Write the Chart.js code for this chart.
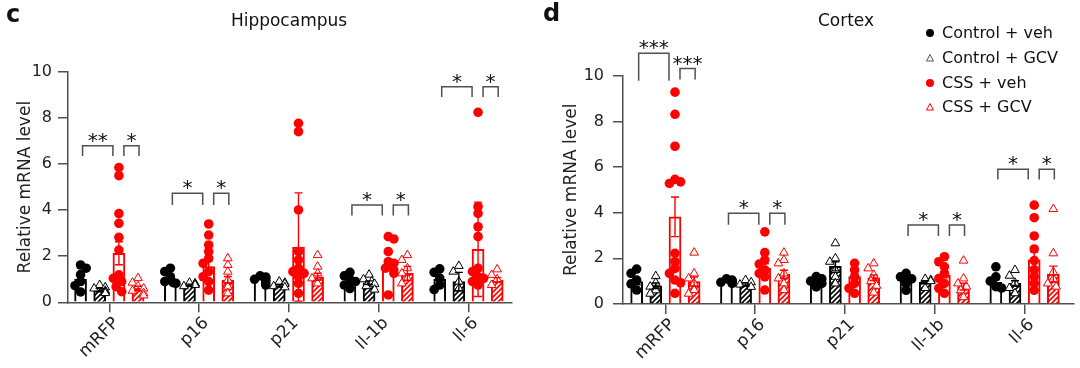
<!DOCTYPE html>
<html>
<head>
<meta charset="utf-8">
<script src="https://cdn.jsdelivr.net/npm/chart.js@4.4.0/dist/chart.umd.min.js"></script>
<style>
  html, body { margin: 0; padding: 0; background: #fff; }
  body { width: 1080px; height: 368px; position: relative; overflow: hidden;
         font-family: 'DejaVu Sans', sans-serif; color: #111; }
  .panel { position: absolute; top: 0; width: 540px; height: 368px; }
  .txt { position: absolute; white-space: nowrap; line-height: 20px; }
  .letter { font-weight: bold; font-size: 24px; }
  .title { font-size: 17px; transform: translateX(-50%); }
  .legend { position: absolute; left: 924px; top: 21px; font-size: 16px; }
  .legend div { height: 24.7px; line-height: 20px; display: flex; align-items: center; }
  .legend svg { width: 12px; height: 12px; margin-right: 6px; }
</style>
</head>
<body>
<div class="panel" style="left:0"><canvas id="hip" width="540" height="368"></canvas></div>
<div class="panel" style="left:540px"><canvas id="cor" width="540" height="368"></canvas></div>

<div class="txt letter" style="left:6px;top:4px">c</div>
<div class="txt letter" style="left:543px;top:3px">d</div>
<div class="txt title" style="left:289px;top:10px">Hippocampus</div>
<div class="txt title" style="left:846px;top:10px">Cortex</div>

<div class="legend">
  <div><svg viewBox="0 0 12 12"><circle cx="6" cy="6" r="4" fill="#000"/></svg>Control + veh</div>
  <div><svg viewBox="0 0 12 12"><polygon points="6,2.5 9.5,9 2.5,9" fill="#fff" stroke="#555" stroke-width="1"/></svg>Control + GCV</div>
  <div><svg viewBox="0 0 12 12"><circle cx="6" cy="6" r="4" fill="#ff0000"/></svg>CSS + veh</div>
  <div><svg viewBox="0 0 12 12"><polygon points="6,2.5 9.5,9 2.5,9" fill="#fff" stroke="#ff0000" stroke-width="1"/></svg>CSS + GCV</div>
</div>

<script>
// ---- data ----
const categories = ['mRFP', 'p16', 'p21', 'Il-1b', 'Il-6'];
const groups = ['Control + veh', 'Control + GCV', 'CSS + veh', 'CSS + GCV'];
const yTickValues = [0, 2, 4, 6, 8, 10];

// Hippocampus (c): bar means, SEM, individual animals
const hipMeanCtrlVeh = [1.0, 0.95, 1.1, 0.9, 1.0];
const hipMeanCtrlGcv = [0.53, 0.75, 0.71, 0.85, 0.9];
const hipMeanCssVeh  = [2.13, 1.55, 2.4, 1.6, 2.3];
const hipMeanCssGcv  = [0.6, 0.97, 1.11, 1.26, 0.97];

const hipSemCtrlVeh = [0.18, 0.1, 0.06, 0.1, 0.12];
const hipSemCtrlGcv = [0.07, 0.04, 0.05, 0.08, 0.4];
const hipSemCssVeh  = [0.5, 0.25, 2.35, 0.2, 2.05];
const hipSemCssGcv  = [0.1, 0.15, 0.15, 0.3, 0.1];

const hipPtsCtrlVeh = [
  [1.62, 1.48, 1.2, 0.9, 0.72, 0.45],
  [1.48, 1.33, 1.11, 0.9, 0.85, 0.82],
  [1.15, 1.1, 1.05, 1.0, 0.95, 0.85, 0.75],
  [1.3, 1.15, 1.0, 0.9, 0.75, 0.6],
  [1.45, 1.3, 1.05, 0.75, 0.55],
];
const hipPtsCtrlGcv = [
  [0.75, 0.65, 0.6, 0.5, 0.45, 0.4],
  [0.85, 0.82, 0.8, 0.75, 0.7],
  [0.9, 0.85, 0.8, 0.7, 0.65],
  [1.2, 1.0, 0.9, 0.8, 0.7, 0.55],
  [1.58, 1.33, 0.9, 0.6],
];
const hipPtsCssVeh = [
  [5.85, 5.5, 3.85, 3.43, 2.82, 2.27, 1.19, 1.04, 0.9, 0.68, 0.46],
  [3.4, 2.92, 2.49, 2.2, 1.91, 1.69, 1.33, 1.11, 0.9, 0.53],
  [7.77, 7.41, 4.01, 2.2, 1.84, 1.48, 1.33, 1.26, 1.11, 0.82, 0.39],
  [2.85, 2.75, 2.2, 1.76, 1.69, 1.48, 1.4, 1.26, 0.32],
  [8.25, 4.15, 3.86, 3.28, 2.85, 1.48, 1.33, 1.11, 1.04, 0.9, 0.75],
];
const hipPtsCssGcv = [
  [1.05, 0.85, 0.7, 0.6, 0.5, 0.4, 0.3],
  [1.91, 1.62, 1.33, 0.97, 0.68, 0.39],
  [2.05, 1.55, 1.26, 1.04, 0.82],
  [2.05, 1.84, 1.48, 1.26, 1.04, 0.82],
  [1.43, 1.19, 1.0, 0.75],
];
// [category, from group, to group, bracket level, leg length, label]
const hipSignif = [
  [0, 0, 2, 6.8, 0.45, '**'], [0, 2, 3, 6.8, 0.45, '*'],
  [1, 0, 2, 4.73, 0.5, '*'],  [1, 2, 3, 4.73, 0.5, '*'],
  [3, 0, 2, 4.22, 0.45, '*'], [3, 2, 3, 4.22, 0.45, '*'],
  [4, 0, 2, 9.36, 0.45, '*'], [4, 2, 3, 9.36, 0.45, '*'],
];

// Cortex (d)
const corMeanCtrlVeh = [0.98, 1.0, 1.05, 1.05, 0.95];
const corMeanCtrlGcv = [0.8, 0.83, 1.65, 0.95, 0.9];
const corMeanCssVeh  = [3.82, 1.56, 1.2, 1.27, 1.93];
const corMeanCssGcv  = [0.98, 1.3, 1.15, 0.76, 1.31];

const corSemCtrlVeh = [0.14, 0.03, 0.08, 0.08, 0.12];
const corSemCtrlGcv = [0.12, 0.05, 0.2, 0.07, 0.12];
const corSemCssVeh  = [0.87, 0.2, 0.1, 0.12, 0.35];
const corSemCssGcv  = [0.2, 0.18, 0.12, 0.15, 0.35];

const corPtsCtrlVeh = [
  [1.53, 1.34, 1.05, 0.88, 0.61],
  [1.1, 1.05, 1.0, 0.98, 0.95, 0.9],
  [1.2, 1.1, 1.0, 0.9, 0.75],
  [1.34, 1.19, 1.1, 0.9, 0.6],
  [1.63, 1.19, 1.0, 0.76, 0.7],
];
const corPtsCtrlGcv = [
  [1.22, 0.93, 0.76, 0.6, 0.45],
  [1.05, 0.95, 0.85, 0.75],
  [2.66, 2.0, 1.85, 1.49, 1.19, 0.9],
  [1.1, 1.05, 1.0, 0.7],
  [1.49, 1.24, 0.93, 0.7, 0.47],
];
const corPtsCssVeh = [
  [9.28, 8.31, 6.91, 5.46, 5.35, 5.28, 2.22, 1.85, 1.56, 1.34, 1.05, 0.93, 0.47],
  [3.16, 2.25, 1.93, 1.75, 1.49, 1.34, 1.19, 0.61],
  [1.78, 1.49, 1.19, 0.9, 0.69, 0.47],
  [2.07, 1.85, 1.63, 1.34, 1.12, 0.9, 0.69, 0.47],
  [4.33, 3.78, 2.98, 2.41, 1.9, 1.5, 1.2, 0.9, 0.6],
];
const corPtsCssGcv = [
  [2.25, 1.34, 1.12, 0.9, 0.61, 0.45],
  [2.25, 1.93, 1.78, 1.34, 1.12, 0.9, 0.61],
  [1.78, 1.56, 1.28, 1.0, 0.8, 0.5],
  [1.9, 1.12, 0.9, 0.76, 0.6, 0.3],
  [4.16, 2.22, 1.4, 1.1, 0.9, 0.76],
];
const corSignif = [
  [0, 0, 2, 10.98, 1.2, '***'], [0, 2, 3, 10.31, 0.48, '***'],
  [1, 0, 2, 3.97, 0.5, '*'],    [1, 2, 3, 3.97, 0.5, '*'],
  [3, 0, 2, 3.46, 0.48, '*'],   [3, 2, 3, 3.46, 0.48, '*'],
  [4, 0, 2, 5.9, 0.45, '*'],    [4, 2, 3, 5.9, 0.45, '*'],
];

// ---- drawing ----
const RED  = '#ff0000';
const INK  = '#000000';
const AXIS = '#505050';
const BAR_OFFSET = [-0.32, -0.107, 0.107, 0.32];
const FONT = "'DejaVu Sans', sans-serif";

Chart.defaults.font.family = FONT;
Chart.defaults.font.size = 16;
Chart.defaults.color = '#222';

function hatch(color) {
  const c = document.createElement('canvas');
  c.width = 5; c.height = 5;
  const g = c.getContext('2d');
  g.fillStyle = '#fff';
  g.fillRect(0, 0, 5, 5);
  g.strokeStyle = color;
  g.lineWidth = 1.6;
  g.beginPath();
  g.moveTo(-1, 6); g.lineTo(6, -1);
  g.moveTo(-3.5, 3.5); g.lineTo(3.5, -3.5);
  g.moveTo(1.5, 8.5); g.lineTo(8.5, 1.5);
  g.stroke();
  return g.createPattern(c, 'repeat');
}

// simple beeswarm: shift overlapping points sideways (pixels)
function swarm(vals) {
  const placed = [];
  return vals.map(v => {
    let pick = 0;
    for (const k of [0, -1, 1, -2, 2]) {
      pick = k * 2.8;
      if (placed.every(p => Math.hypot(pick - p.dx, (v - p.v) * 23) >= 6.5)) break;
    }
    placed.push({ dx: pick, v });
    return pick;
  });
}

const STYLES = [
  { color: INK, hatch: false, point: 'circle' },
  { color: INK, hatch: true,  point: 'triangle' },
  { color: RED, hatch: false, point: 'circle' },
  { color: RED, hatch: true,  point: 'triangle' },
];

function buildDatasets(means, pts) {
  const bars = STYLES.map((s, j) => ({
    type: 'bar',
    label: groups[j],
    data: means[j].map((m, i) => ({ x: i + BAR_OFFSET[j], y: m })),
    backgroundColor: s.hatch ? hatch(s.color) : '#fff',
    borderColor: s.color,
    borderWidth: 2,
    borderSkipped: 'bottom',
    barThickness: 12,
    maxBarThickness: 12,
    grouped: false,
    order: 2,
  }));
  const dots = STYLES.map((s, j) => ({
    type: 'scatter',
    label: groups[j],
    data: pts[j].flatMap((vals, i) => {
      const dx = swarm(vals);
      return vals.map((v, k) => ({ x: i + BAR_OFFSET[j] + dx[k] / 90, y: v }));
    }),
    pointStyle: s.point,
    pointRadius: s.point === 'circle' ? 4.8 : 5,
    pointBackgroundColor: s.point === 'circle' ? s.color : '#fff',
    pointBorderColor: s.color,
    pointBorderWidth: s.point === 'circle' ? 0 : 1,
    pointHoverRadius: 5,
    clip: false,
    order: 1,
  }));
  return [...bars, ...dots];
}

function errorBars(means, sems) {
  return {
    id: 'errorBars',
    afterDatasetsDraw(chart) {
      const { ctx, scales: { x, y } } = chart;
      ctx.save();
      ctx.lineWidth = 1.4;
      means.forEach((row, j) => {
        ctx.strokeStyle = STYLES[j].color;
        row.forEach((m, i) => {
          const px = x.getPixelForValue(i + BAR_OFFSET[j]);
          const top = y.getPixelForValue(m + sems[j][i]);
          const bot = y.getPixelForValue(Math.max(m - sems[j][i], 0));
          ctx.beginPath();
          ctx.moveTo(px, top); ctx.lineTo(px, bot);
          ctx.moveTo(px - 4, top); ctx.lineTo(px + 4, top);
          ctx.moveTo(px - 4, bot); ctx.lineTo(px + 4, bot);
          ctx.stroke();
        });
      });
      ctx.restore();
    },
  };
}

function brackets(marks) {
  return {
    id: 'brackets',
    afterDraw(chart) {
      const { ctx, scales: { x, y } } = chart;
      ctx.save();
      ctx.strokeStyle = AXIS;
      ctx.lineWidth = 1.5;
      ctx.fillStyle = '#111';
      ctx.font = '20px ' + FONT;
      ctx.textAlign = 'center';
      ctx.textBaseline = 'alphabetic';
      marks.forEach(([cat, from, to, level, leg, label]) => {
        const x1 = x.getPixelForValue(cat + BAR_OFFSET[from]) + (from === 2 ? 5 : 2);
        const x2 = x.getPixelForValue(cat + BAR_OFFSET[to]) + (to === 2 ? -6 : 1);
        const yl = y.getPixelForValue(level);
        const yb = y.getPixelForValue(level - leg);
        ctx.beginPath();
        ctx.moveTo(x1, yb); ctx.lineTo(x1, yl); ctx.lineTo(x2, yl); ctx.lineTo(x2, yb);
        ctx.stroke();
        ctx.fillText(label, (x1 + x2) / 2, yl + 1);
      });
      ctx.restore();
    },
  };
}

function renderPanel(canvasId, p) {
  const means = [p.meanCV, p.meanCG, p.meanSV, p.meanSG];
  const sems  = [p.semCV, p.semCG, p.semSV, p.semSG];
  const pts   = [p.ptsCV, p.ptsCG, p.ptsSV, p.ptsSG];

  return new Chart(document.getElementById(canvasId), {
    type: 'bar',
    data: { datasets: buildDatasets(means, pts) },
    options: {
      responsive: false,
      animation: false,
      events: [],
      layout: { padding: { top: p.top, right: p.right, left: 0, bottom: 0 } },
      plugins: { legend: { display: false }, tooltip: { enabled: false } },
      scales: {
        x: {
          type: 'linear',
          offset: false,
          min: p.xMin,
          max: p.xMax,
          afterBuildTicks: s => { s.ticks = categories.map((_, i) => ({ value: i })); },
          afterFit: s => { s.height = p.xHeight; },
          ticks: {
            callback: v => categories[v],
            autoSkip: false,
            minRotation: 45,
            maxRotation: 45,
            padding: 1,
            labelOffset: 7,
            color: '#222',
            font: { size: 17 },
          },
          grid: { offset: false, drawOnChartArea: false, drawTicks: true, tickLength: 10, color: AXIS, lineWidth: 1.5 },
          border: { display: true, color: AXIS, width: 1.5 },
        },
        y: {
          min: 0,
          max: 10,
          afterBuildTicks: s => { s.ticks = yTickValues.map(v => ({ value: v })); },
          afterFit: s => { s.width = p.yWidth; },
          ticks: { padding: p.tickPad, color: '#222', font: { size: 16 } },
          grid: { drawOnChartArea: false, drawTicks: true, tickLength: 10, color: AXIS, lineWidth: 1.5 },
          border: { display: true, color: AXIS, width: 1.5 },
          title: {
            display: true,
            text: 'Relative mRNA level',
            color: '#222',
            font: { size: 17 },
            padding: { top: p.titlePad, bottom: 0 },
          },
        },
      },
    },
    plugins: [errorBars(means, sems), brackets(p.signif)],
  });
}

renderPanel('hip', {
  meanCV: hipMeanCtrlVeh, meanCG: hipMeanCtrlGcv, meanSV: hipMeanCssVeh, meanSG: hipMeanCssGcv,
  semCV: hipSemCtrlVeh, semCG: hipSemCtrlGcv, semSV: hipSemCssVeh, semSG: hipSemCssGcv,
  ptsCV: hipPtsCtrlVeh, ptsCG: hipPtsCtrlGcv, ptsSV: hipPtsCssVeh, ptsSG: hipPtsCssGcv,
  signif: hipSignif,
  top: 72, right: 28, yWidth: 68, xHeight: 65.7, xMin: -0.46, xMax: 4.485,
  tickPad: 6, titlePad: 15,
});

renderPanel('cor', {
  meanCV: corMeanCtrlVeh, meanCG: corMeanCtrlGcv, meanSV: corMeanCssVeh, meanSG: corMeanCssGcv,
  semCV: corSemCtrlVeh, semCG: corSemCtrlGcv, semSV: corSemCssVeh, semSG: corSemCssGcv,
  ptsCV: corPtsCtrlVeh, ptsCG: corPtsCtrlGcv, ptsSV: corPtsCssVeh, ptsSG: corPtsCssGcv,
  signif: corSignif,
  top: 75.7, right: 5, yWidth: 83, xHeight: 64, xMin: -0.472, xMax: 4.55,
  tickPad: 9, titlePad: 21,
});
</script>
</body>
</html>
